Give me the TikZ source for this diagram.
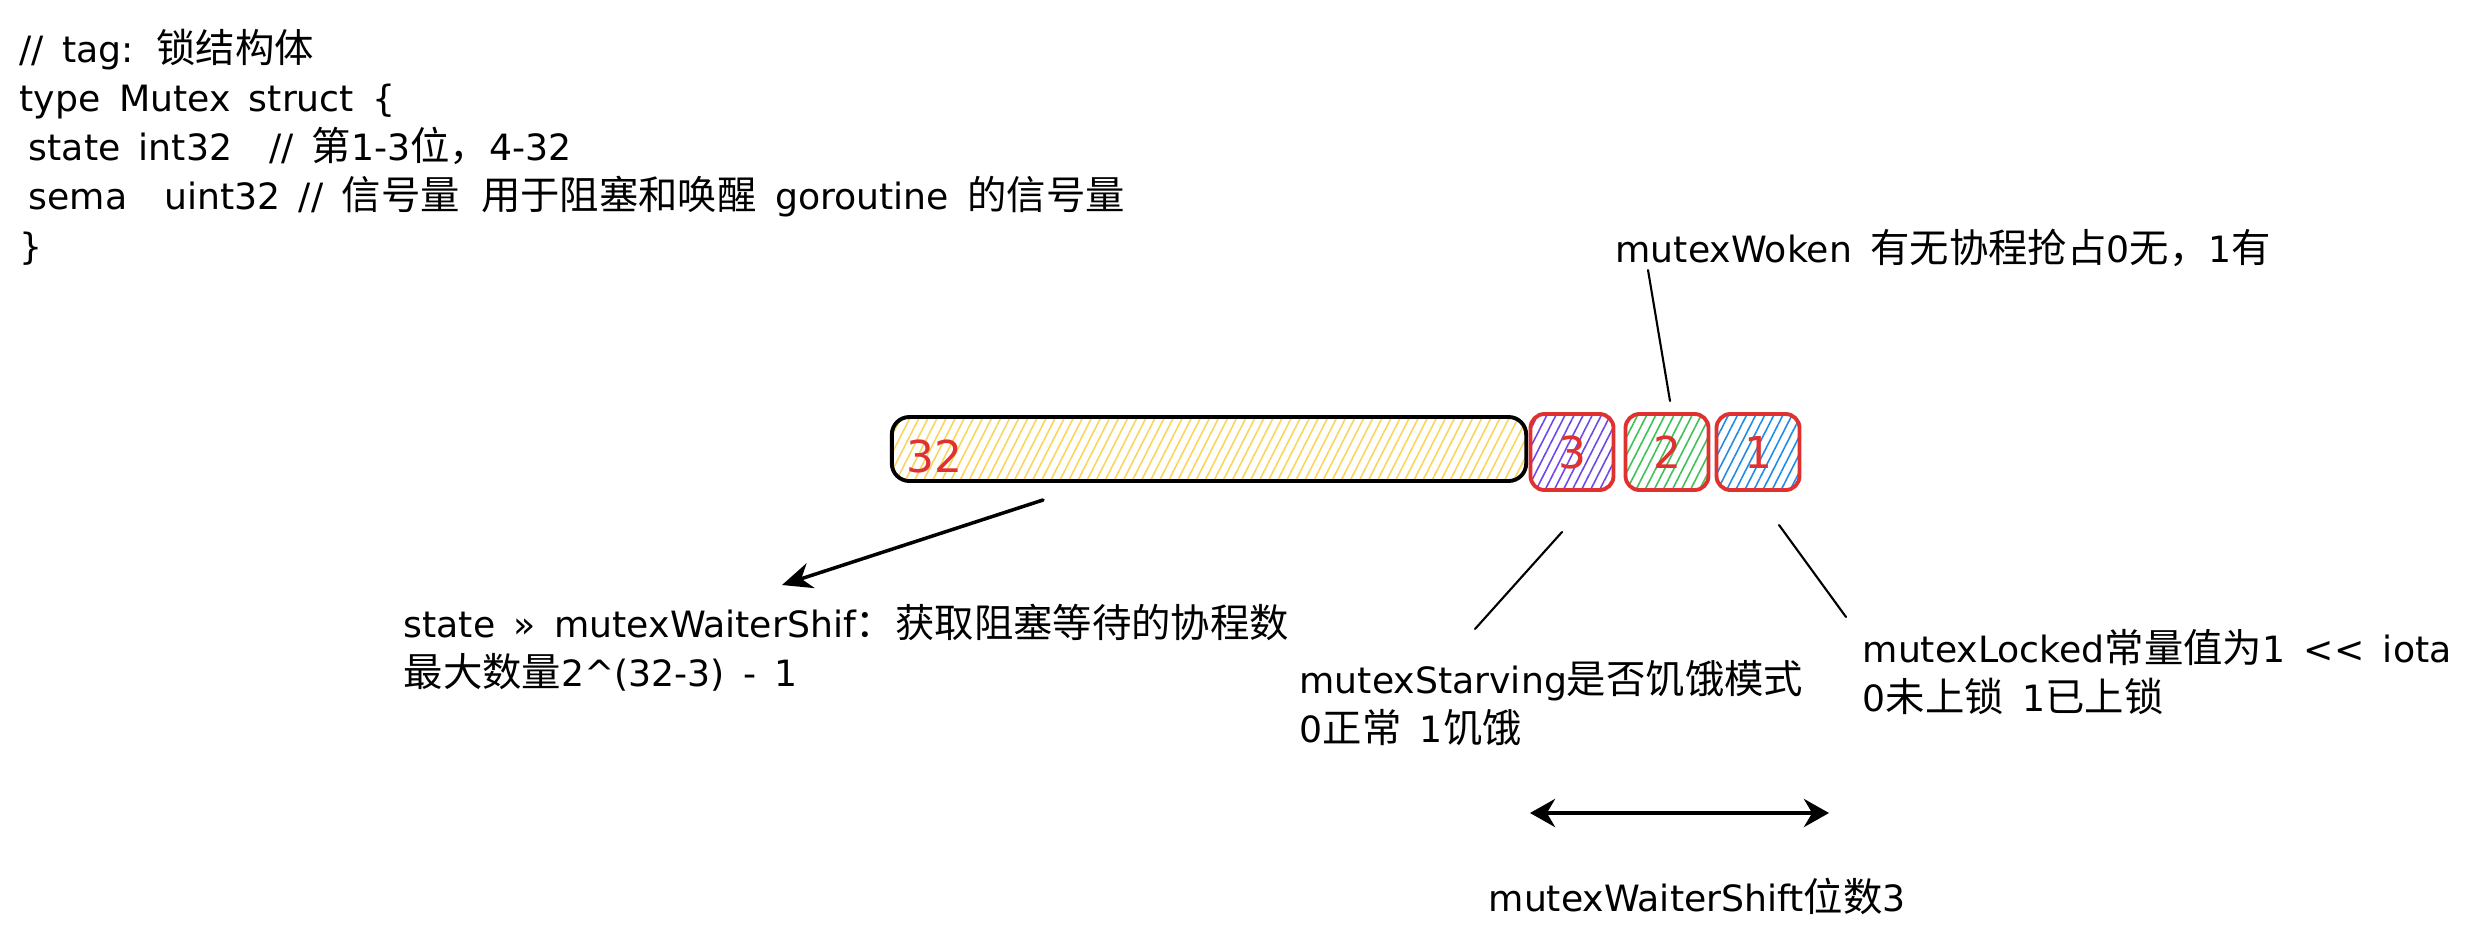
\documentclass[tikz,border=0pt]{standalone}
\usepackage{fontspec}
\newfontfamily\cjk[WordSpace=2.4]{Noto Sans CJK SC}
\newfontfamily\latn[WordSpace=1.6]{DejaVu Sans}
\usetikzlibrary{arrows.meta,patterns.meta}

\definecolor{exred}{HTML}{E03131}
\definecolor{exyellow}{HTML}{F9D55B}
\definecolor{exviolet}{HTML}{7048E8}
\definecolor{exgreen}{HTML}{40C057}
\definecolor{exblue}{HTML}{228BE6}

% chinese runs
\newcommand\zh[1]{{\cjk\fontsize{11.2}{14}\selectfont #1}}

\begin{document}
\begin{tikzpicture}[x=0.01cm,y=-0.01cm,line cap=round,line join=round,>=Stealth,
    every node/.style={font=\latn\fontsize{10.3}{14}\selectfont,inner sep=0pt},
    hatch/.style={pattern={Lines[angle=63,distance=2.3pt,line width=0.45pt]},pattern color=#1},
    bitbox/.style={draw=exred,line width=1.1pt,rounded corners=4pt,minimum width=0.83cm,minimum height=0.76cm,
        text=exred,font=\latn\fontsize{12.5}{14}\selectfont},
    lead/.style={line width=0.6pt}]

\useasboundingbox (0,0) rectangle (2466,939);

% struct definition
\node[anchor=west,align=left] (code) at (19,147)
    {// tag: \zh{锁结构体}\\
     type Mutex struct \{\\
     \hspace*{0.25em}state int32\ \ // \zh{第}1-3\zh{位，}4-32\\
     \hspace*{0.25em}sema\ \ uint32 // \zh{信号量 用于阻塞和唤醒} goroutine \zh{的信号量}\\
     \}};

% state bits
\node[draw,line width=1.1pt,rounded corners=5pt,minimum width=6.34cm,minimum height=0.64cm,hatch=exyellow] (hi) at (1209,449) {};
\node[anchor=west,text=exred,font=\latn\fontsize{12.5}{14}\selectfont] (n32) at (906,456) {32};
\foreach \n/\x/\c in {3/1572/exviolet,2/1667/exgreen,1/1758/exblue}
    \node[bitbox,hatch=\c] (b\n) at (\x,452) {\n};

% labels
\node[anchor=west] (woken) at (1615,248) {mutexWoken \zh{有无协程抢占}0\zh{无，}1\zh{有}};
\node[anchor=west,align=left] (waiter) at (403,648)
    {state » mutexWaiterShif\zh{：获取阻塞等待的协程数}\\\zh{最大数量}2\textasciicircum(32-3) - 1};
\node[anchor=west,align=left] (starv) at (1299,703) {mutexStarving\zh{是否饥饿模式}\\0\zh{正常} 1\zh{饥饿}};
\node[anchor=west,align=left] (locked) at (1862,672) {mutexLocked\zh{常量值为}1 << iota\\0\zh{未上锁} 1\zh{已上锁}};
\node[anchor=west] (shift) at (1488,896) {mutexWaiterShift\zh{位数}3};

% leaders
\coordinate (wk0) at (1648,270);
\coordinate (wk1) at (1670,401);
\coordinate (st0) at (1562,532);
\coordinate (st1) at (1475,629);
\coordinate (lk0) at (1779,525);
\coordinate (lk1) at (1846,617);
\coordinate (wt0) at (1043,500);
\coordinate (wt1) at (782,585);
\coordinate (sh0) at (1530,813);
\coordinate (sh1) at (1829,813);
\draw[lead] (wk0) -- (wk1);
\draw[lead] (st0) -- (st1);
\draw[lead] (lk0) -- (lk1);
\draw[line width=1pt,arrows={-Stealth[length=0.3cm,width=0.26cm]}] (wt0) -- (wt1);
\draw[{Stealth[length=0.25cm,width=0.28cm]}-{Stealth[length=0.25cm,width=0.28cm]},line width=1.2pt] (sh0) -- (sh1);

\end{tikzpicture}
\end{document}
